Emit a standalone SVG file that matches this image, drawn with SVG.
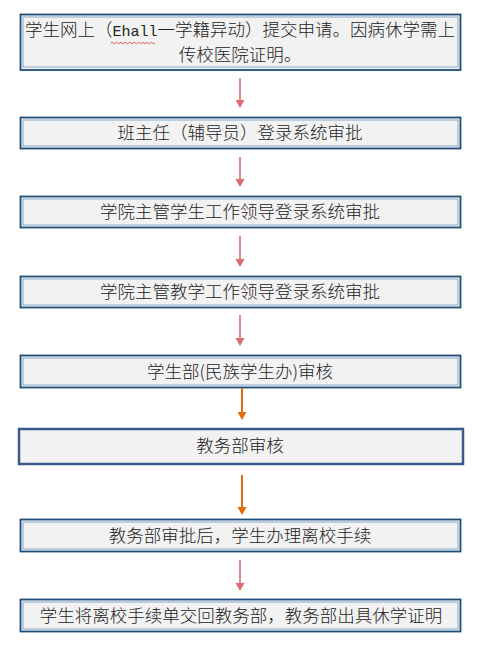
<svg xmlns="http://www.w3.org/2000/svg" width="479" height="654" viewBox="0 0 479 654">
<style>
.outer{fill:#f2f2f2;stroke:#1f4e79;stroke-width:1.8}
.inner{fill:none;stroke:#6f98c0;stroke-width:0.8}
.single{fill:#f2f2f2;stroke:#3b5a8c;stroke-width:2.5}
.t{font-family:"Noto Sans CJK SC","Noto Sans CJK JP",sans-serif;font-size:17.5px;font-weight:300;fill:#222;text-anchor:middle}
.pk{stroke:#de6b73;stroke-width:1.6;fill:none}
.or{stroke:#e36c0a;stroke-width:2;fill:none}
</style>
<rect width="479" height="654" fill="#ffffff"/>
<g id="n1">
<rect class="outer" x="20.5" y="14.5" width="440" height="55.5"/>
<rect class="inner" x="23" y="17" width="435" height="50"/>
<text class="t" x="240" y="36">学生网上（<tspan font-family="Liberation Mono" font-size="15">Ehall</tspan>一学籍异动）提交申请。因病休学需上</text>
<text class="t" x="240" y="61">传校医院证明。</text>
<path d="M111,43 q1.1,-1.5 2.2,0 t2.2,0 t2.2,0 t2.2,0 t2.2,0 t2.2,0 t2.2,0 t2.2,0 t2.2,0 t2.2,0 t2.2,0 t2.2,0 t2.2,0 t2.2,0 t2.2,0 t2.2,0 t2.2,0 t2.2,0 t2.2,0 t2.2,0" fill="none" stroke="#e03030" stroke-width="0.8"/>
</g>
<g id="n2">
<rect class="outer" x="20.5" y="117.5" width="440" height="31"/>
<rect class="inner" x="23" y="120" width="435" height="26"/>
<text class="t" x="240" y="139">班主任（辅导员）登录系统审批</text>
</g>
<g id="n3">
<rect class="outer" x="20.5" y="196.5" width="440" height="31"/>
<rect class="inner" x="23" y="199" width="435" height="26"/>
<text class="t" x="240" y="218">学院主管学生工作领导登录系统审批</text>
</g>
<g id="n4">
<rect class="outer" x="20.5" y="276.5" width="440" height="31"/>
<rect class="inner" x="23" y="279" width="435" height="26"/>
<text class="t" x="240" y="298">学院主管教学工作领导登录系统审批</text>
</g>
<g id="n5">
<rect class="outer" x="20.5" y="355.5" width="440" height="32"/>
<rect class="inner" x="23" y="358" width="435" height="27"/>
<text class="t" x="240" y="378">学生部(民族学生办)审核</text>
</g>
<g id="n6">
<rect class="single" x="19" y="429" width="444" height="35"/>
<text class="t" x="240" y="452">教务部审核</text>
</g>
<g id="n7">
<rect class="outer" x="20.5" y="519.5" width="440" height="32"/>
<rect class="inner" x="23" y="522" width="435" height="27"/>
<text class="t" x="240" y="542">教务部审批后，学生办理离校手续</text>
</g>
<g id="n8">
<rect class="outer" x="20.5" y="599.5" width="440" height="32"/>
<rect class="inner" x="23" y="602" width="435" height="27"/>
<text class="t" x="241" y="622">学生将离校手续单交回教务部，教务部出具休学证明</text>
</g>
<g id="connectors">
<line class="pk" x1="240" y1="78" x2="240" y2="101"/><path d="M235.5,100 L244.5,100 L240,108 Z" fill="#de6b73"/>
<line class="pk" x1="240" y1="157" x2="240" y2="180"/><path d="M235.5,179 L244.5,179 L240,187 Z" fill="#de6b73"/>
<line class="pk" x1="240" y1="236" x2="240" y2="260"/><path d="M235.5,259 L244.5,259 L240,267 Z" fill="#de6b73"/>
<line class="pk" x1="240" y1="315" x2="240" y2="339"/><path d="M235.5,338 L244.5,338 L240,346 Z" fill="#de6b73"/>
<line class="or" x1="242" y1="388" x2="242" y2="413"/><path d="M237.5,412 L246.5,412 L242,420 Z" fill="#e36c0a"/>
<line class="or" x1="242" y1="475" x2="242" y2="508"/><path d="M237.5,507 L246.5,507 L242,515 Z" fill="#e36c0a"/>
<line class="pk" x1="240" y1="560" x2="240" y2="584"/><path d="M235.5,583 L244.5,583 L240,591 Z" fill="#de6b73"/>
</g>
</svg>
